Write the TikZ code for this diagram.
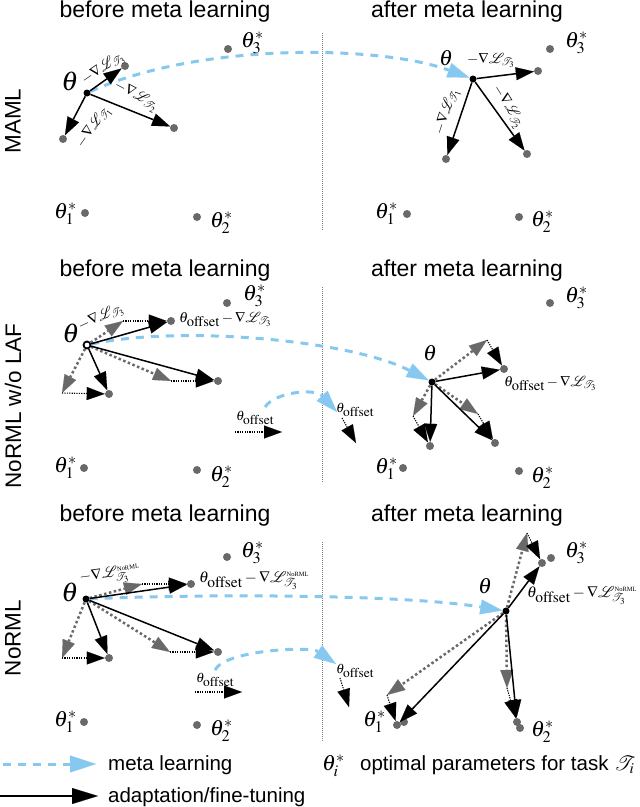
\documentclass[tikz,border=0pt]{standalone}
\usepackage{mathptmx}
\usepackage[no-math]{fontspec}
\setmainfont{Liberation Sans}
\newfontfamily\tmsf{Liberation Serif}
\usetikzlibrary{arrows.meta}
\definecolor{metablue}{RGB}{135,200,240}
\definecolor{dotgray}{RGB}{105,105,105}
\tikzset{
  pt/.style={circle,fill=dotgray,inner sep=0pt,minimum size=8pt},
  th/.style={circle,fill=black,inner sep=0pt,minimum size=7pt},
  thring/.style={circle,draw=black,fill=white,line width=1.8pt,inner sep=0pt,minimum size=7pt},
  adapt/.style={line width=1.5pt,-{Triangle[length=18pt,width=13pt,line width=0.1pt]}},
  adaptbig/.style={line width=1.5pt,-{Triangle[length=26pt,width=16pt,line width=0.1pt]}},
  grad/.style={draw=dotgray,line width=2.5pt,dash pattern=on 2.5pt off 2.5pt,-{Triangle[length=18pt,width=13pt,line width=0.1pt]}},
  offs/.style={line width=1.1pt,dash pattern=on 1.2pt off 1.2pt,-{Triangle[length=18pt,width=13pt,line width=0.1pt]}},
  meta/.style={draw=metablue,line width=3pt,dash pattern=on 8pt off 7pt,-{Triangle[length=22pt,width=15pt,line width=0.1pt]}},
  metabig/.style={draw=metablue,line width=3pt,dash pattern=on 8pt off 7pt,-{Triangle[length=26pt,width=17pt,line width=0.1pt]}},
  sep/.style={draw=gray,line width=0.8pt,dash pattern=on 1pt off 1pt},
  head/.style={font=\fontsize{23}{27}\selectfont,anchor=base,inner sep=0pt},
  side/.style={font=\fontsize{22.5}{27}\selectfont,rotate=90,inner sep=0pt},
  opt/.style={font=\fontsize{22}{26}\selectfont,inner sep=0pt},
  thl/.style={font=\fontsize{27}{30}\selectfont,anchor=base,inner sep=0pt},
  tha/.style={font=\fontsize{22}{26}\selectfont,anchor=base,inner sep=0pt},
  gl/.style={font=\fontsize{14.5}{17}\selectfont,inner sep=0pt},
  ol/.style={font=\fontsize{14.5}{17}\selectfont,inner sep=0pt,anchor=base west},
  olb/.style={font=\fontsize{15.5}{18}\selectfont,inner sep=0pt,anchor=base west},
  oleg/.style={font=\fontsize{13.5}{16}\selectfont,inner sep=0pt,anchor=base west},
  leg/.style={font=\fontsize{20.5}{24}\selectfont,anchor=base west,inner sep=0pt},
}
\newcommand{\thoff}{\theta_{\textstyle\mathrm{offset}}}
\newcommand{\nrml}{\hbox{\tmsf\fontsize{6.5}{7}\selectfont NoRML}}
\begin{document}
\begin{tikzpicture}[x=1pt,y=-1pt]
\path[use as bounding box] (0,0) rectangle (640,807);

% ================= TOP: MAML =================
\node[head] (h1) at (165,17) {before meta learning};
\node[head] (h2) at (467,17) {after meta learning};
\node[side] (s1) at (13,121) {MAML};
\coordinate (sep1a) at (322,33); \coordinate (sep1b) at (322,230);
\draw[sep] (sep1a) -- (sep1b);

\node[th] (t1) at (87,93) {};
\node[pt] (t1a) at (125,66) {};
\node[pt] (t1b) at (174,128) {};
\node[pt] (t1c) at (63,139) {};
\node[pt] (t1s3) at (228,49) {};
\node[pt] (t1s1) at (85,213) {};
\node[pt] (t1s2) at (197,217) {};

\node[th] (t2) at (473,79) {};
\node[pt] (t2a) at (538,71) {};
\node[pt] (t2b) at (527,154) {};
\node[pt] (t2c) at (446,159) {};
\node[pt] (t2s3) at (550,49) {};
\node[pt] (t2s1) at (407,214) {};
\node[pt] (t2s2) at (519,217) {};

\draw[meta] (t1) .. controls (200,42) and (380,45) .. (t2);
\draw[adapt] (t1) -- (t1a);
\draw[adapt] (t1) -- (t1b);
\draw[adapt] (t1) -- (t1c);
\draw[adapt] (t2) -- (t2a);
\draw[adapt] (t2) -- (t2b);
\draw[adapt] (t2) -- (t2c);

\node[thl] (t1l) at (70,90) {$\theta$};
\node[tha] (t2l) at (446,65) {$\theta$};
\node[gl,rotate=35] (t1g3) at (103,69) {$-\nabla\mathcal{L}_{\mathcal{T}_3}$};
\node[gl,rotate=-28] (t1g2) at (136,96) {$-\nabla\mathcal{L}_{\mathcal{T}_2}$};
\node[gl,rotate=55] (t1g1) at (94,127) {$-\nabla\mathcal{L}_{\mathcal{T}_1}$};
\node[gl,anchor=base west] (t2g3) at (467,63) {$-\nabla\mathcal{L}_{\mathcal{T}_3}$};
\node[gl,rotate=72] (t2g1) at (447,112) {$-\nabla\mathcal{L}_{\mathcal{T}_1}$};
\node[gl,rotate=-58] (t2g2) at (508,107) {$-\nabla\mathcal{L}_{\mathcal{T}_2}$};

\node[opt,anchor=base west] (t1s3l) at (241,47) {$\theta^*_3$};
\node[opt,anchor=base east] (t1s1l) at (77,218) {$\theta^*_1$};
\node[opt,anchor=base west] (t1s2l) at (210,227) {$\theta^*_2$};
\node[opt,anchor=base west] (t2s3l) at (565,47) {$\theta^*_3$};
\node[opt,anchor=base east] (t2s1l) at (398,218) {$\theta^*_1$};
\node[opt,anchor=base west] (t2s2l) at (531,226) {$\theta^*_2$};

% ================= MIDDLE: NoRML w/o LAF =================
\node[head] (h3) at (165,276) {before meta learning};
\node[head] (h4) at (467,276) {after meta learning};
\node[side] (s2) at (13,406) {NoRML w/o LAF};
\coordinate (sep2a) at (322,287); \coordinate (sep2b) at (322,483);
\draw[sep] (sep2a) -- (sep2b);

\node[thring] (m1) at (87,345) {};
\coordinate (m1g3) at (123,321);
\coordinate (m1g2) at (171,381);
\coordinate (m1g1) at (62,393);
\node[pt] (m1a) at (171,321) {};
\node[pt] (m1b) at (218,381) {};
\node[pt] (m1c) at (109,394) {};
\node[pt] (m1s3) at (227,303) {};
\node[pt] (m1s1) at (84,468) {};
\node[pt] (m1s2) at (197,470) {};

\node[th] (m2) at (432,382) {};
\coordinate (m2g3) at (487,340);
\coordinate (m2g2) at (478,414);
\coordinate (m2g1) at (413,416);
\node[pt] (m2a) at (504,369) {};
\node[pt] (m2b) at (495,443) {};
\node[pt] (m2c) at (430,446) {};
\node[pt] (m2s3) at (550,303) {};
\node[pt] (m2s1) at (403,468) {};
\node[pt] (m2s2) at (519,471) {};

\draw[meta] (m1) .. controls (180,325) and (350,340) .. (m2);
\coordinate (m1cs) at (265,407);
\coordinate (m2ct) at (337,412);
\draw[meta] (m1cs) .. controls (275,392) and (315,388) .. (m2ct);

\draw[grad] (m1) -- (m1g3);
\draw[grad] (m1) -- (m1g2);
\draw[grad] (m1) -- (m1g1);
\draw[offs] (m1g3) -- (m1a);
\draw[offs] (m1g2) -- (m1b);
\draw[offs] (m1g1) -- (m1c);
\draw[adapt] (m1) -- (m1a);
\draw[adapt] (m1) -- (m1b);
\draw[adapt] (m1) -- (m1c);

\draw[grad] (m2) -- (m2g3);
\draw[grad] (m2) -- (m2g2);
\draw[grad] (m2) -- (m2g1);
\draw[offs] (m2g3) -- (m2a);
\draw[offs] (m2g2) -- (m2b);
\draw[offs] (m2g1) -- (m2c);
\draw[adapt] (m2) -- (m2a);
\draw[adapt] (m2) -- (m2b);
\draw[adapt] (m2) -- (m2c);

\coordinate (m1o0) at (235,432); \coordinate (m1o1) at (282,432);
\draw[offs] (m1o0) -- (m1o1);
\coordinate (m2o0) at (342,418); \coordinate (m2o1) at (356,443);
\draw[offs] (m2o0) -- (m2o1);

\node[thl] (m1l) at (71,342) {$\theta$};
\node[tha] (m2l) at (430,360) {$\theta$};
\node[gl,rotate=25] (m1g3l) at (101,318) {$-\nabla\mathcal{L}_{\mathcal{T}_3}$};
\node[ol] (m1al) at (179,322) {$\thoff-\nabla\mathcal{L}_{\mathcal{T}_3}$};
\node[ol] (m2al) at (504,386) {$\thoff-\nabla\mathcal{L}_{\mathcal{T}_3}$};
\node[oleg] (m1ol) at (236,420) {$\thoff$};
\node[oleg] (m2ol) at (336,412) {$\thoff$};

\node[opt,anchor=base west] (m1s3l) at (243,300) {$\theta^*_3$};
\node[opt,anchor=base east] (m1s1l) at (77,472) {$\theta^*_1$};
\node[opt,anchor=base west] (m1s2l) at (210,481) {$\theta^*_2$};
\node[opt,anchor=base west] (m2s3l) at (565,302) {$\theta^*_3$};
\node[opt,anchor=base east] (m2s1l) at (398,473) {$\theta^*_1$};
\node[opt,anchor=base west] (m2s2l) at (531,482) {$\theta^*_2$};

% ================= BOTTOM: NoRML =================
\node[head] (h5) at (165,521) {before meta learning};
\node[head] (h6) at (467,521) {after meta learning};
\node[side] (s3) at (13,638) {NoRML};
\coordinate (sep3a) at (322,542); \coordinate (sep3b) at (322,742);
\draw[sep] (sep3a) -- (sep3b);

\node[th] (b1) at (86,599) {};
\coordinate (b1g3) at (142,584);
\coordinate (b1g2) at (170,652);
\coordinate (b1g1) at (62,658);
\node[pt] (b1a) at (191,584) {};
\node[pt] (b1b) at (218,652) {};
\node[pt] (b1c) at (109,658) {};
\node[pt] (b1s3) at (227,557) {};
\node[pt] (b1s1) at (84,722) {};
\node[pt] (b1s2) at (197,725) {};

\node[th] (b2) at (506,611) {};
\coordinate (b2g3) at (527,533);
\coordinate (b2g2) at (507,688);
\coordinate (b2g1) at (387,695);
\node[pt] (b2s3) at (551,558) {};
\node[pt] (b2s1) at (404,722) {};
\node[pt] (b2s2) at (520,728) {};
\node[pt] (b2a) at (542,563) {};
\node[pt] (b2b) at (517,722) {};
\node[pt] (b2c) at (397,725) {};

\draw[meta] (b1) .. controls (200,594) and (400,594) .. (b2);
\coordinate (b1cs) at (215,670);
\coordinate (b2ct) at (336,664);
\draw[meta] (b1cs) .. controls (225,650) and (310,646) .. (b2ct);

\draw[grad] (b1) -- (b1g3);
\draw[grad] (b1) -- (b1g2);
\draw[grad] (b1) -- (b1g1);
\draw[offs] (b1g3) -- (b1a);
\draw[offs] (b1g2) -- (b1b);
\draw[offs] (b1g1) -- (b1c);
\draw[adapt] (b1) -- (b1a);
\draw[adapt] (b1) -- (b1b);
\draw[adapt] (b1) -- (b1c);

\draw[grad] (b2) -- (b2g3);
\draw[grad] (b2) -- (b2g2);
\draw[grad] (b2) -- (b2g1);
\draw[offs] (b2g3) -- (b2a);
\draw[offs] (b2g2) -- (b2b);
\draw[offs] (b2g1) -- (b2c);
\draw[adapt] (b2) -- (b2a);
\draw[adapt] (b2) -- (b2b);
\draw[adapt] (b2) -- (b2c);

\coordinate (b1o0) at (195,692); \coordinate (b1o1) at (242,692);
\draw[offs] (b1o0) -- (b1o1);
\coordinate (b2o0) at (340,678); \coordinate (b2o1) at (349,707);
\draw[offs] (b2o0) -- (b2o1);

\node[thl] (b1l) at (70,601) {$\theta$};
\node[tha] (b2l) at (485,593) {$\theta$};
\node[font=\fontsize{15}{18}\selectfont,inner sep=0pt,anchor=base west,rotate=8] (b1g3l) at (80,582) {$-\nabla\mathcal{L}^{\nrml}_{\mathcal{T}_3}$};
\node[olb] (b1al) at (199,582) {$\thoff-\nabla\mathcal{L}^{\nrml}_{\mathcal{T}_3}$};
\node[olb] (b2al) at (527,597) {$\thoff-\nabla\mathcal{L}^{\nrml}_{\mathcal{T}_3}$};
\node[oleg] (b1ol) at (196,682) {$\thoff$};
\node[oleg] (b2ol) at (336,673) {$\thoff$};

\node[opt,anchor=base west] (b1s3l) at (241,557) {$\theta^*_3$};
\node[opt,anchor=base east] (b1s1l) at (77,726) {$\theta^*_1$};
\node[opt,anchor=base west] (b1s2l) at (210,735) {$\theta^*_2$};
\node[opt,anchor=base west] (b2s3l) at (565,557) {$\theta^*_3$};
\node[opt,anchor=base east] (b2s1l) at (386,726) {$\theta^*_1$};
\node[opt,anchor=base west] (b2s2l) at (531,736) {$\theta^*_2$};

% ================= LEGEND =================
\coordinate (lg1s) at (3,764); \coordinate (lg1e) at (96,764);
\draw[metabig] (lg1s) -- (lg1e);
\node[leg] (lg1t) at (108,770) {meta learning};
\coordinate (lg2s) at (0,796); \coordinate (lg2e) at (98,796);
\draw[adaptbig] (lg2s) -- (lg2e);
\node[leg] (lg2t) at (108,802) {adaptation/fine-tuning};
\node[opt,anchor=base west] (lg3m) at (322,770) {$\theta^*_i$};
\node[leg] (lg3t) at (360,770) {optimal parameters for task $\mathcal{T}_i$};
\end{tikzpicture}
\end{document}
